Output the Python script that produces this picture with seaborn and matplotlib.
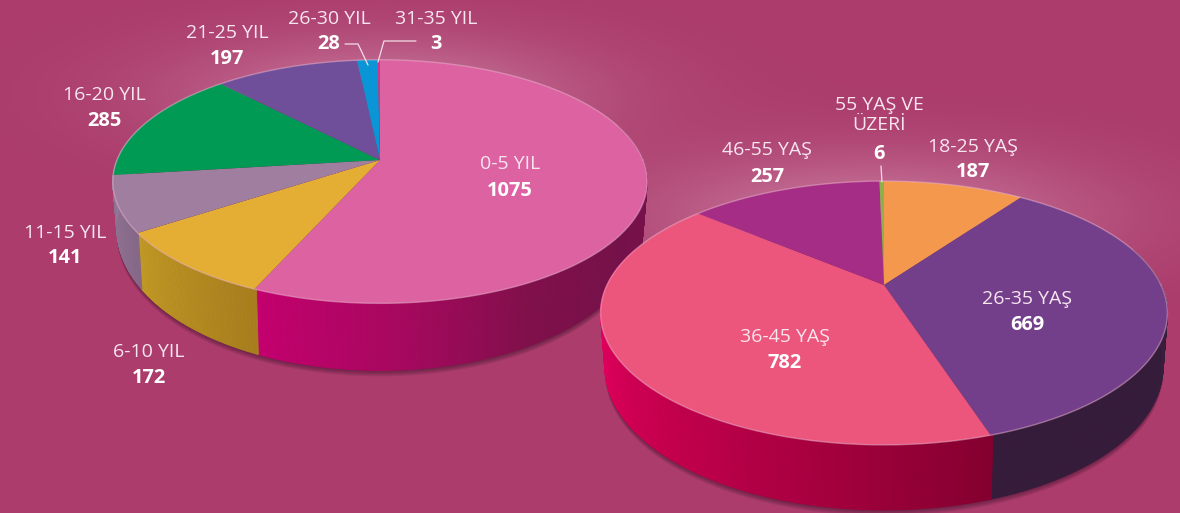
import numpy as np
import seaborn as sns
from matplotlib import pyplot as plt
from matplotlib.collections import PolyCollection
from matplotlib.transforms import Transform

# data
tenure_labels = ['0-5 YIL', '6-10 YIL', '11-15 YIL', '16-20 YIL', '21-25 YIL', '26-30 YIL', '31-35 YIL']
tenure_values = [1075, 172, 141, 285, 197, 28, 3]
age_labels = ['18-25 YAŞ', '26-35 YAŞ', '36-45 YAŞ', '46-55 YAŞ', '55 YAŞ VE\nÜZERİ']
age_values = [187, 669, 782, 257, 6]

# colours
BG = '#AB3C6C'
tenure_top = ['#DC62A2', '#E3AE33', '#A07EA0', '#009A55', '#6F4F9A', '#0A96D6', '#D6318C']
tenure_side = [['#C4006F', '#A8085F', '#80104B', '#76114A', '#76114A', '#7A1A4E'], ['#C29A25', '#A87E1E'],
               ['#937595', '#866888'], ['#937595', '#937595'], ['#4A3570', '#4A3570'],
               ['#0A6A9A', '#0A6A9A'], ['#A01060', '#A01060']]
age_top = ['#F4984E', '#733F8B', '#EC567C', '#A52D85', '#8DB04A']
age_side = [['#A86A30', '#A86A30'], ['#351C3A', '#351C3A', '#3A2040'],
            ['#E2005E', '#E2005E', '#C8004F', '#A90040', '#84002E'], ['#701C5A', '#701C5A'], ['#607A30', '#607A30']]

# label positions, centre of text in pixels
tenure_pos = [(510, 164), (149, 352), (65, 233), (104, 95), (227, 33), (329, 19), (436, 19)]
age_pos = [(973, 147), (1027, 299), (785, 337), (767, 150), (879, 115)]
tenure_num_y = [191, 378, 258, 121, 59, 44, 44]
age_num_y = [172, 325, 363, 177, 154]


class Tilt(Transform):
    # unit circle -> tilted disc seen in perspective
    input_dims = 2
    output_dims = 2

    def __init__(self, cx, cy, a, b, k, d0=0, d1=0, s=1.0):
        super().__init__()
        self.p = (cx, cy, a, b, k, d0, d1, s)

    def transform_non_affine(self, xy):
        cx, cy, a, b, k, d0, d1, s = self.p
        xy = np.asarray(xy, dtype=float)
        u, v = xy[:, 0], xy[:, 1]
        w = 1 + k * v
        return np.column_stack([cx + s * a * u / w, cy - b * v / w + d0 - d1 * v])


def draw_pie(ax, values, top_colors, side_colors, geom, depth, z):
    top = Tilt(*geom)
    bottom = Tilt(*geom, d0=depth[0], d1=depth[1], s=depth[2])

    wedges, _ = ax.pie(values, colors=top_colors, startangle=90, counterclock=False,
                       wedgeprops={'linewidth': 0, 'zorder': z + 2})
    for w in wedges:
        w.set_transform(top + ax.transData)

    # soft shadow under the disc
    t = np.radians(np.linspace(0, 360, 361))
    circle = np.column_stack([np.cos(t), np.sin(t)])
    for off in [1, 2, 3, 4, 5, 6]:
        ax.fill(*(bottom.transform(circle) + [0, off]).T, color='#2A0A20', alpha=0.09, lw=0, zorder=z)

    # side wall, one thin strip per step of angle
    for w, stops in zip(wedges, side_colors):
        th = np.arange(w.theta1, w.theta2 + 0.5, 0.5)
        th = th[np.sin(np.radians(th)) < 0.3]
        if len(th) < 2:
            continue
        pts = np.column_stack([np.cos(np.radians(th)), np.sin(np.radians(th))])
        up, lo = top.transform(pts), bottom.transform(pts)
        quads = [[up[i], up[i + 1], lo[i + 1], lo[i]] for i in range(len(th) - 1)]
        shades = sns.blend_palette(stops, n_colors=len(quads))
        ax.add_collection(PolyCollection(quads, facecolors=shades, edgecolors=shades,
                                         linewidths=0.6, zorder=z + 1))

    # thin light rim on the top surface
    ax.plot(*top.transform(circle).T, color='#EBB4CE', lw=1.0, alpha=0.5, zorder=z + 3)


def add_labels(ax, labels, values, pos, num_y):
    for lab, val, (x, y), ny in zip(labels, values, pos, num_y):
        ax.text(x, y, lab, color='#F8E6EF', fontsize=14, ha='center', va='center',
                linespacing=1.15, zorder=10)
        ax.text(x, ny, str(val), color='white', fontsize=14.4, fontweight='bold', ha='center',
                va='center', zorder=10)


if __name__ == '__main__':
    sns.set_style('white')
    plt.rcParams['font.family'] = ['Open Sans', 'DejaVu Sans']

    fig = plt.figure(figsize=(11.8, 5.13), dpi=100)
    ax = fig.add_axes([0, 0, 1, 1])

    # background with a glow behind the top of each disc
    yy, xx = np.mgrid[0:513, 0:1180]
    glow = 0.40 * np.exp(-((xx - 385) / 205.0) ** 2 - ((yy - 95) / 58.0) ** 2)
    glow += 0.40 * np.exp(-((xx - 870) / 230.0) ** 2 - ((yy - 215) / 62.0) ** 2)
    glow = np.clip(glow, 0, 0.5)[..., None]
    bg = np.array([0xAB, 0x3C, 0x6C]) / 255.0
    img = bg * (1 - glow) + np.array([0.93, 0.78, 0.86]) * glow
    ax.imshow(img, extent=(0, 1180, 513, 0), aspect='auto', zorder=0)

    draw_pie(ax, tenure_values, tenure_top, tenure_side, (380, 160, 263, 118, 0.177), (42, 25, 0.985), 1)
    draw_pie(ax, age_values, age_top, age_side, (884, 285, 277, 126, 0.212), (50, 15, 0.985), 5)

    add_labels(ax, tenure_labels, tenure_values, tenure_pos, tenure_num_y)
    add_labels(ax, age_labels, age_values, age_pos, age_num_y)

    # leader lines
    for lx, ly in [([345, 358, 368], [44, 44, 65]), ([416, 384, 378], [41, 41, 62]), ([881, 882], [166, 182])]:
        ax.plot(lx, ly, color='#F4DCE8', lw=0.9, zorder=9)

    ax.set_aspect('auto')
    ax.set_xlim(0, 1180)
    ax.set_ylim(513, 0)
    ax.axis('off')
    fig.savefig('out.png', dpi=100)
